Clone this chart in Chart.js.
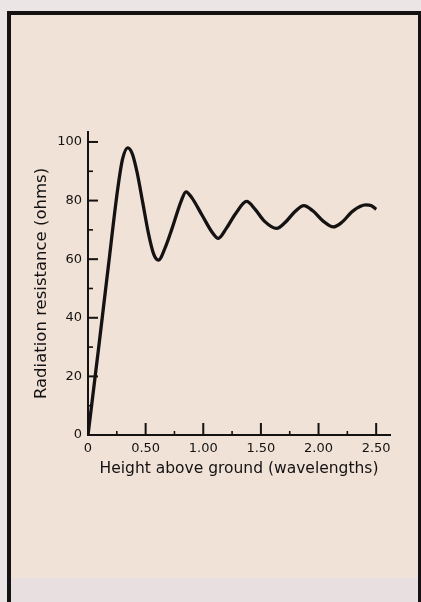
<!DOCTYPE html>
<html lang="en">
<head>
<meta charset="UTF-8">
<title>Radiation resistance vs height</title>
<script src="https://cdn.jsdelivr.net/npm/chart.js"></script>
<style>
  body { margin: 0; width: 421px; height: 602px; overflow: hidden; position: relative; background: #ebe5e6; }
  #frame { position: absolute; left: 7px; top: 11px; width: 407px; height: 600px;
           border: solid #141212; border-width: 4px 3px 0 4px; background: #f1e2d7; }
  #band { position: absolute; left: 11px; top: 578px; width: 407px; height: 24px; background: #e8dfe0; }
  canvas { position: absolute; left: 0; top: 0; }
</style>
</head>
<body>
<div id="frame"></div>
<div id="band"></div>
<canvas id="chart" width="421" height="602"></canvas>
<script>
// values
const heights    = [0, 0.09, 0.176, 0.258, 0.30, 0.345, 0.385, 0.427, 0.475, 0.526, 0.57, 0.61,
                    0.68, 0.725, 0.81, 0.85, 0.90, 0.99, 1.08, 1.13,
                    1.20, 1.28, 1.376, 1.45, 1.53, 1.636,
                    1.71, 1.79, 1.873, 1.95, 2.04, 2.128,
                    2.20, 2.30, 2.41, 2.46, 2.50];
const resistance = [0, 29, 57.4, 84, 94.2, 98, 95.9, 89.4, 79.3, 68.5, 61.7, 59.7,
                    65, 70, 80, 83, 81, 75, 69, 67.1,
                    70.5, 75.5, 79.7, 77, 73, 70.5,
                    72.5, 76, 78.3, 76.5, 73, 71,
                    72.5, 76.5, 78.5, 78.2, 77];
const xTickLabels = ['0', '0.50', '1.00', '1.50', '2.00', '2.50'];
const yTickLabels = ['0', '20', '40', '60', '80', '100'];

const ink = '#141212';
const fontFamily = '"DejaVu Sans", sans-serif';

// tick marks point inward, long on labelled values, short between
const innerTicks = {
  id: 'innerTicks',
  afterDraw(chart) {
    const { ctx, chartArea, scales } = chart;
    ctx.save();
    ctx.strokeStyle = ink;
    scales.x.ticks.forEach(t => {
      if (t.value === 0) return;
      const major = Math.abs(t.value / 0.5 - Math.round(t.value / 0.5)) < 1e-6;
      const px = scales.x.getPixelForValue(t.value);
      ctx.lineWidth = major ? 2 : 1.6;
      ctx.beginPath();
      ctx.moveTo(px, chartArea.bottom);
      ctx.lineTo(px, chartArea.bottom - (major ? 12 : 4));
      ctx.stroke();
    });
    scales.y.ticks.forEach(t => {
      if (t.value === 0) return;
      const major = t.value % 20 === 0;
      const py = scales.y.getPixelForValue(t.value);
      ctx.lineWidth = major ? 2 : 1.6;
      ctx.beginPath();
      ctx.moveTo(chartArea.left, py);
      ctx.lineTo(chartArea.left + (major ? 10 : 5), py);
      ctx.stroke();
    });
    ctx.restore();
  }
};

new Chart(document.getElementById('chart'), {
  type: 'line',
  data: {
    datasets: [{
      data: heights.map((h, i) => ({ x: h, y: resistance[i] })),
      borderColor: ink,
      borderWidth: 3.3,
      pointRadius: 0,
      cubicInterpolationMode: 'monotone',
      fill: false
    }]
  },
  options: {
    responsive: false,
    animation: false,
    layout: { padding: { top: 132, right: 31, left: 0, bottom: 0 } },
    plugins: { legend: { display: false }, tooltip: { enabled: false } },
    scales: {
      x: {
        type: 'linear',
        min: 0,
        max: 2.62,
        afterFit(scale) { scale.height = 167; },
        grid: { display: false, drawTicks: false },
        border: { display: true, color: ink, width: 2 },
        ticks: {
          stepSize: 0.25,
          includeBounds: false,
          autoSkip: false,
          maxRotation: 0,
          padding: 6,
          color: ink,
          font: { family: fontFamily, size: 13 },
          callback(v) {
            const k = v / 0.5;
            return Math.abs(k - Math.round(k)) < 1e-6 ? xTickLabels[Math.round(k)] : '';
          }
        },
        title: {
          display: true,
          text: 'Height above ground (wavelengths)',
          color: ink,
          font: { family: fontFamily, size: 15.5 },
          padding: { top: 0, bottom: 124 }
        }
      },
      y: {
        min: 0,
        max: 103.4,
        afterFit(scale) { scale.width = 88; },
        grid: { display: false, drawTicks: false },
        border: { display: true, color: ink, width: 2 },
        ticks: {
          stepSize: 10,
          includeBounds: false,
          autoSkip: false,
          padding: 6,
          color: ink,
          font: { family: fontFamily, size: 13 },
          callback(v) {
            return v % 20 === 0 ? yTickLabels[v / 20] : '';
          }
        },
        title: {
          display: true,
          text: 'Radiation resistance (ohms)',
          color: ink,
          font: { family: fontFamily, size: 16.5 },
          padding: { top: 32, bottom: 0 }
        }
      }
    }
  },
  plugins: [innerTicks]
});
</script>
</body>
</html>
